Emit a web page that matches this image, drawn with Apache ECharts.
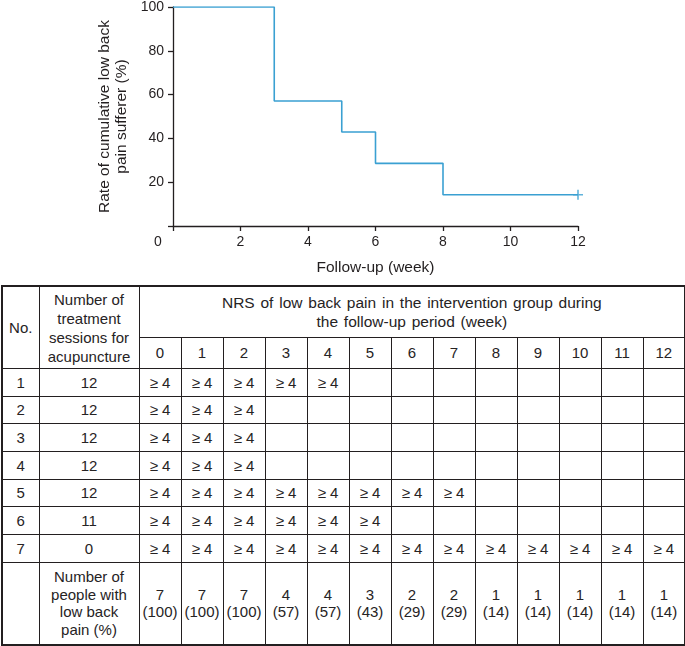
<!DOCTYPE html>
<html>
<head>
<meta charset="utf-8">
<script src="https://cdn.jsdelivr.net/npm/echarts@6/dist/echarts.min.js"></script>
<style>
  html, body { margin: 0; padding: 0; background: #fff; }
  body { width: 685px; height: 646px; position: relative; overflow: hidden;
         font-family: "Liberation Sans", Arial, Helvetica, sans-serif; color: #262324; }
  #chart { position: absolute; left: 0; top: 0; width: 685px; height: 284px; }
  #tbl { position: absolute; left: 1px; top: 285px; width: 683px; height: 360px;
         border-collapse: collapse; table-layout: fixed; font-size: 15px; }
  #tbl td { border: 1px solid #231f20; text-align: center; vertical-align: middle;
            padding: 0; line-height: 17.5px; }
  #tbl { border: 2px solid #231f20; }
  #tbl tr.h1 td { height: 50px; }
  #tbl tr.h2 td { height: 30px; }
  #tbl tr.r td { height: 26.7px; }
  #tbl tr.s td { height: 81px; }
  #tbl td.hd { line-height: 19px; }
  #tbl td.nrs { font-size: 15.5px; word-spacing: 1.5px; }
</style>
</head>
<body>
<div id="chart"></div>
<table id="tbl"></table>
<script>
// ---- chart data ----
var kmWeeks = [0, 3, 5, 6, 8, 12];
var kmRates = [100, 57.1, 42.9, 28.6, 14.3, 14.3];
var censorWeeks = [12];
var censorRates = [14.3];
var xTicks = [0, 2, 4, 6, 8, 10, 12];
var yTicks = [0, 20, 40, 60, 80, 100];

// ---- table data ----
var weekCols = ['0','1','2','3','4','5','6','7','8','9','10','11','12'];
var patientNo = ['1','2','3','4','5','6','7'];
var sessions = ['12','12','12','12','12','11','0'];
var lastPainWeek = [4, 2, 2, 2, 7, 5, 12];
var painMark = '\u2265 4';
var peopleCount = [7,7,7,4,4,3,2,2,1,1,1,1,1];
var peoplePct = [100,100,100,57,57,43,29,29,14,14,14,14,14];

var FONT = '"Liberation Sans", Arial, Helvetica, sans-serif';
var INK = '#231f20';
var BLUE = '#3aa0d2';

var chart = echarts.init(document.getElementById('chart'), null, { renderer: 'canvas' });
chart.setOption({
  animation: false,
  textStyle: { fontFamily: FONT },
  grid: { left: 173, top: 6, width: 405, height: 220 },
  xAxis: {
    type: 'value', min: xTicks[0], max: xTicks[xTicks.length - 1], interval: 2,
    name: 'Follow-up (week)', nameLocation: 'middle', nameGap: 34,
    nameTextStyle: { fontSize: 15.5, color: INK, fontFamily: FONT },
    axisLine: { lineStyle: { color: INK, width: 1.3 } },
    axisTick: { show: true, length: 5, lineStyle: { color: INK, width: 1.3 } },
    splitLine: { show: false },
    axisLabel: {
      fontSize: 14, color: INK, margin: 9, fontFamily: FONT,
      formatter: function (v) { return v === 0 ? '{o|0}' : String(v); },
      rich: { o: { fontSize: 14, color: INK, fontFamily: FONT, padding: [0, 30, 0, 0] } }
    }
  },
  yAxis: {
    type: 'value', min: yTicks[0], max: yTicks[yTicks.length - 1], interval: 20,
    name: 'Rate of cumulative low back\npain sufferer (%)', nameLocation: 'middle', nameGap: 42,
    nameTextStyle: { fontSize: 15.5, color: INK, fontFamily: FONT, lineHeight: 17 },
    axisLine: { show: true, lineStyle: { color: INK, width: 1.3 } },
    axisTick: { show: true, length: 5, lineStyle: { color: INK, width: 1.3 } },
    splitLine: { show: false },
    axisLabel: {
      fontSize: 14, color: INK, margin: 9, fontFamily: FONT,
      formatter: function (v) { return v === 0 ? '' : String(v); }
    }
  },
  series: [
    {
      type: 'line', step: 'end', showSymbol: false, symbol: 'none',
      data: kmWeeks.map(function (w, i) { return [w, kmRates[i]]; }),
      lineStyle: { color: BLUE, width: 1.6 }
    },
    {
      type: 'scatter',
      symbol: 'path://M4.2,0h1.6v4.2h4.2v1.6h-4.2v4.2h-1.6v-4.2h-4.2v-1.6h4.2z',
      symbolSize: 10,
      data: censorWeeks.map(function (w, i) { return [w, censorRates[i]]; }),
      itemStyle: { color: BLUE }
    }
  ]
});

// ---- build table from arrays ----
var html = '';
html += '<colgroup><col style="width:37px"><col style="width:100px">';
weekCols.forEach(function () { html += '<col style="width:42px">'; });
html += '</colgroup>';
html += '<tr class="h1"><td rowspan="2">No.</td>' +
        '<td rowspan="2" class="hd">Number of<br>treatment<br>sessions for<br>acupuncture</td>' +
        '<td colspan="' + weekCols.length + '" class="hd nrs">NRS of low back pain in the intervention group during<br>the follow-up period (week)</td></tr>';
html += '<tr class="h2">';
weekCols.forEach(function (w) { html += '<td>' + w + '</td>'; });
html += '</tr>';
patientNo.forEach(function (p, i) {
  html += '<tr class="r"><td>' + p + '</td><td>' + sessions[i] + '</td>';
  weekCols.forEach(function (w, j) {
    html += '<td>' + (j <= lastPainWeek[i] ? painMark : '') + '</td>';
  });
  html += '</tr>';
});
html += '<tr class="s"><td></td><td>Number of<br>people with<br>low back<br>pain (%)</td>';
weekCols.forEach(function (w, j) {
  html += '<td>' + peopleCount[j] + '<br>(' + peoplePct[j] + ')</td>';
});
html += '</tr>';
document.getElementById('tbl').innerHTML = html;
</script>
</body>
</html>
